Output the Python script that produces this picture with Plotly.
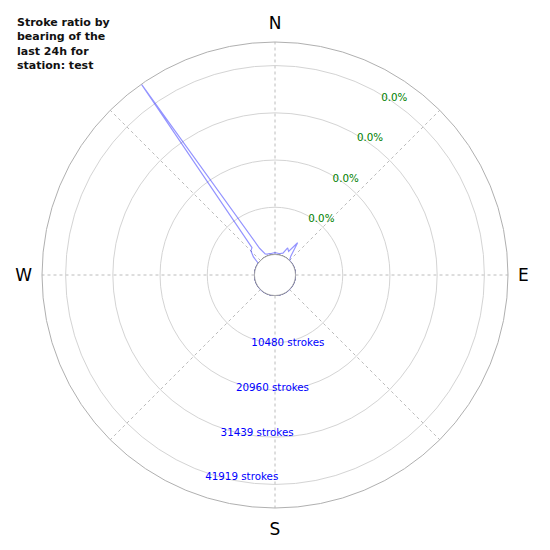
"""Polar chart: lightning stroke count by bearing for one station (last 24h)."""

import plotly.graph_objects as go

# Bearings (degrees from north, clockwise) and stroke counts
BEARINGS = list(range(0, 360, 5))
STROKES = [
    400, 350, 300, 400, 600, 2100, 1500, 4200, 900, 0,      # 0 - 45
    0, 0, 0, 0, 0, 0, 0, 0, 0, 0,                           # 50 - 95
    0, 0, 0, 0, 0, 0, 0, 0, 0, 0,                           # 100 - 145
    0, 0, 0, 0, 0, 0, 0, 0, 0, 0,                           # 150 - 195
    0, 0, 0, 0, 0, 0, 0, 0, 0, 0,                           # 200 - 245
    0, 0, 0, 0, 0, 0, 0, 0, 0, 0,                           # 250 - 295
    0, 0, 1700, 3000, 3400, 47159, 2300, 600, 400, 350,     # 300 - 345
    300, 350,                                               # 350 - 355
]
R_MAX = 47159

# Radial ticks and their two label sets
RADIAL_TICKS = [10480, 20960, 31439, 41919]
STROKE_LABELS = ["10480 strokes", "20960 strokes", "31439 strokes", "41919 strokes"]
PERCENT_LABELS = ["0.0%", "0.0%", "0.0%", "0.0%"]
STROKE_LABEL_BEARING = 199
PERCENT_LABEL_BEARING = 31
# small radial nudges so labels sit where the original put them
STROKE_LABEL_SHIFT = 1100
PERCENT_LABEL_SHIFT = -700

COMPASS_VALS = [0, 45, 90, 135, 180, 225, 270, 315]
COMPASS_TEXT = ["N", "", "E", "", "S", "", "W", ""]

TITLE = "Stroke ratio by<br>bearing of the<br>last 24h for<br>station: test"

FONT_FAMILY = "DejaVu Sans, sans-serif"
LINE_BLUE = "rgba(0,0,255,0.42)"
GRID_COLOR = "#d4d4d4"
SPOKE_COLOR = "#bcbcbc"
OUTER_COLOR = "#b0b0b0"

# page body has an 8px margin, so the polar area is pulled up/left by that much
PX = 550
OFF = 8

fig = go.Figure()

# Inner circle outline (edge of the hole)
fig.add_trace(
    go.Scatterpolar(
        r=[0] * (len(BEARINGS) + 1),
        theta=BEARINGS + [BEARINGS[0]],
        mode="lines",
        line=dict(color="black", width=1),
        hoverinfo="skip",
    )
)

# Stroke counts by bearing (closed loop)
fig.add_trace(
    go.Scatterpolar(
        r=STROKES + [STROKES[0]],
        theta=BEARINGS + [BEARINGS[0]],
        mode="lines",
        line=dict(color=LINE_BLUE, width=1.2),
        name="strokes",
    )
)

# Stroke count labels
fig.add_trace(
    go.Scatterpolar(
        r=[t + STROKE_LABEL_SHIFT for t in RADIAL_TICKS],
        theta=[STROKE_LABEL_BEARING] * len(RADIAL_TICKS),
        mode="text",
        text=STROKE_LABELS,
        textposition="middle right",
        textfont=dict(color="blue", size=10.3, family=FONT_FAMILY),
        hoverinfo="skip",
    )
)

# Percentage labels
fig.add_trace(
    go.Scatterpolar(
        r=[t + PERCENT_LABEL_SHIFT for t in RADIAL_TICKS],
        theta=[PERCENT_LABEL_BEARING] * len(RADIAL_TICKS),
        mode="text",
        text=PERCENT_LABELS,
        textposition="middle right",
        textfont=dict(color="green", size=10.3, family=FONT_FAMILY),
        hoverinfo="skip",
    )
)

fig.update_layout(
    width=PX,
    height=PX,
    margin=dict(l=0, r=0, t=0, b=0),
    paper_bgcolor="white",
    plot_bgcolor="white",
    showlegend=False,
    font=dict(family=FONT_FAMILY, color="black"),
    polar=dict(
        domain=dict(
            x=[(42 - OFF) / PX, (508 - OFF) / PX],
            y=[1 - (508 - OFF) / PX, 1 - (42 - OFF) / PX],
        ),
        bgcolor="white",
        hole=0.088,
        radialaxis=dict(
            range=[0, R_MAX],
            tickvals=RADIAL_TICKS,
            showticklabels=False,
            ticks="",
            showline=False,
            showgrid=True,
            gridcolor=GRID_COLOR,
            gridwidth=0.8,
        ),
        angularaxis=dict(
            rotation=90,
            direction="clockwise",
            tickmode="array",
            tickvals=COMPASS_VALS,
            ticktext=COMPASS_TEXT,
            tickfont=dict(size=17, color="black", family=FONT_FAMILY),
            ticks="outside",
            ticklen=6,
            tickcolor="rgba(0,0,0,0)",
            showline=True,
            linecolor=OUTER_COLOR,
            linewidth=1,
            showgrid=True,
            gridcolor=SPOKE_COLOR,
            griddash="dot",
            gridwidth=0.8,
        ),
    ),
    annotations=[
        dict(
            text=f"<b>{TITLE}</b>",
            xref="paper",
            yref="paper",
            x=(15 - OFF) / PX,
            y=1 - (14 - OFF) / PX,
            xanchor="left",
            yanchor="top",
            align="left",
            showarrow=False,
            font=dict(size=11, color="#111111", family=FONT_FAMILY),
        )
    ],
)

fig.write_html("out.html")
